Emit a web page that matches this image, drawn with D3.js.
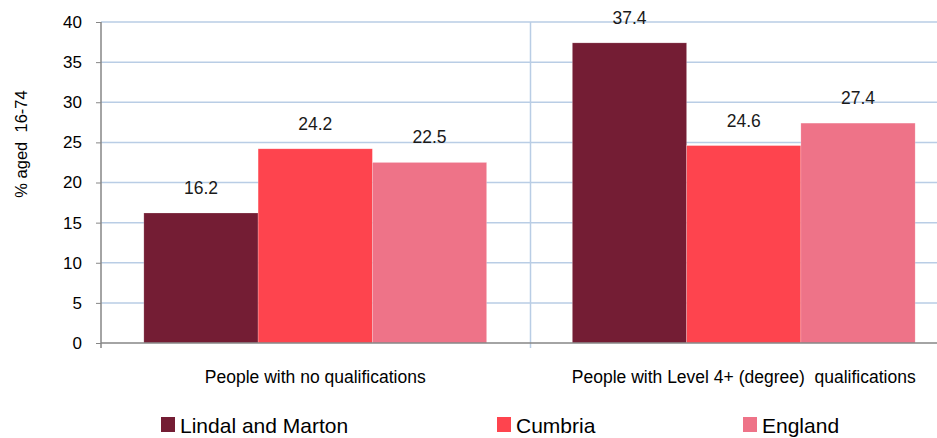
<!DOCTYPE html>
<html>
<head>
  <meta charset="utf-8">
  <title>People by qualification level</title>
  <style>
    body {
      margin: 0;
      background-color: white;
      font-family: "Liberation Sans", Arial, sans-serif;
    }
    .tick-label {
      font-size: 17px;
      fill: #000;
    }
  </style>
  <script src="https://d3js.org/d3.v7.min.js"></script>
</head>
<body>
  <div id="chart"></div>
  <script>
    // Data
    const categories = ["People with no qualifications", "People with Level 4+ (degree)  qualifications"];
    const seriesNames = ["Lindal and Marton", "Cumbria", "England"];
    const lindalValues = [16.2, 37.4];
    const cumbriaValues = [24.2, 24.6];
    const englandValues = [22.5, 27.4];
    const yTicks = [0, 5, 10, 15, 20, 25, 30, 35, 40];

    const seriesColors = ["#741d34", "#fe444e", "#ee7388"];
    const seriesValues = [lindalValues, cumbriaValues, englandValues];

    const width = 937, height = 438;
    const margin = {top: 22, left: 101, bottom: 95};
    const plotRight = 958;  // plot area runs slightly past the window edge
    const plotBottom = height - margin.bottom;

    const svg = d3.select("#chart").append("svg")
      .attr("width", width)
      .attr("height", height);

    const y = d3.scaleLinear()
      .domain([0, 40])
      .range([plotBottom, margin.top]);

    const x0 = d3.scaleBand()
      .domain(categories)
      .range([margin.left, plotRight])
      .paddingInner(0.2)
      .paddingOuter(0.1);

    const x1 = d3.scaleBand()
      .domain(seriesNames)
      .range([0, x0.bandwidth()]);

    // Gridlines
    svg.append("g")
      .selectAll("line")
      .data(yTicks.filter(d => d > 0))
      .enter().append("line")
      .attr("x1", margin.left)
      .attr("x2", plotRight)
      .attr("y1", d => y(d))
      .attr("y2", d => y(d))
      .attr("stroke", "#b9cde5")
      .attr("stroke-width", 1.5);

    // Divider between the two categories
    const step = x0.step();
    const dividerX = x0(categories[0]) + x0.bandwidth() + x0.paddingInner() * step / 2 + 1;
    svg.append("line")
      .attr("x1", dividerX).attr("x2", dividerX)
      .attr("y1", margin.top).attr("y2", plotBottom + 5)
      .attr("stroke", "#b9cde5")
      .attr("stroke-width", 1.5);

    // Bars
    const groups = svg.append("g")
      .selectAll("g")
      .data(categories)
      .enter().append("g")
      .attr("transform", d => `translate(${x0(d)},0)`);

    groups.each(function(cat, ci) {
      const g = d3.select(this);
      const rows = seriesNames.map((s, si) => ({series: s, value: seriesValues[si][ci], color: seriesColors[si]}));

      g.selectAll("rect")
        .data(rows)
        .enter().append("rect")
        .attr("x", d => x1(d.series))
        .attr("y", d => y(d.value))
        .attr("width", x1.bandwidth())
        .attr("height", d => y(0) - y(d.value))
        .attr("fill", d => d.color)
        .attr("stroke", "#ffffff")
        .attr("stroke-opacity", 0.35)
        .attr("stroke-width", 0.6);

      g.selectAll("text")
        .data(rows)
        .enter().append("text")
        .attr("x", d => x1(d.series) + x1.bandwidth() / 2)
        .attr("y", d => y(d.value) - 19)
        .attr("text-anchor", "middle")
        .style("font-size", "17.5px")
        .attr("fill", "#1a1a1a")
        .text(d => d.value.toFixed(1));
    });

    // Y axis
    const yAxis = svg.append("g")
      .attr("transform", `translate(${margin.left},0)`)
      .call(d3.axisLeft(y).tickValues(yTicks).tickSize(5).tickPadding(14));
    yAxis.select(".domain").attr("stroke", "#868686").attr("stroke-width", 1.5)
      .attr("d", `M0,${margin.top}V${plotBottom + 5}`);
    yAxis.selectAll(".tick line").attr("stroke", "#868686");
    yAxis.selectAll(".tick text")
      .attr("class", "tick-label")
      .style("font-family", "'Liberation Sans', Arial, sans-serif");

    // X axis line
    svg.append("line")
      .attr("x1", margin.left).attr("x2", plotRight)
      .attr("y1", plotBottom).attr("y2", plotBottom)
      .attr("stroke", "#868686")
      .attr("stroke-width", 1.5);

    // Category labels
    svg.append("g")
      .selectAll("text")
      .data(categories)
      .enter().append("text")
      .attr("x", d => x0(d) + x0.bandwidth() / 2)
      .attr("y", plotBottom + 40)
      .attr("text-anchor", "middle")
      .style("font-size", "17.5px")
      .style("white-space", "pre")
      .attr("fill", "#000")
      .text(d => d);

    // Y axis title
    svg.append("text")
      .attr("transform", "rotate(-90)")
      .attr("x", -144)
      .attr("y", 27)
      .attr("text-anchor", "middle")
      .style("font-size", "16.5px")
      .style("white-space", "pre")
      .attr("fill", "#000")
      .text("% aged  16-74");

    // Legend (sits right at the bottom edge, as in the original)
    const legendX = [161, 497, 743];
    const legend = svg.append("g")
      .selectAll("g")
      .data(seriesNames)
      .enter().append("g")
      .attr("transform", (d, i) => `translate(${legendX[i]},417)`);

    legend.append("rect")
      .attr("width", 14)
      .attr("height", 15)
      .attr("fill", (d, i) => seriesColors[i]);

    legend.append("text")
      .attr("x", 19)
      .attr("y", 16)
      .style("font-size", "21px")
      .attr("fill", "#000")
      .text(d => d);
  </script>
</body>
</html>
